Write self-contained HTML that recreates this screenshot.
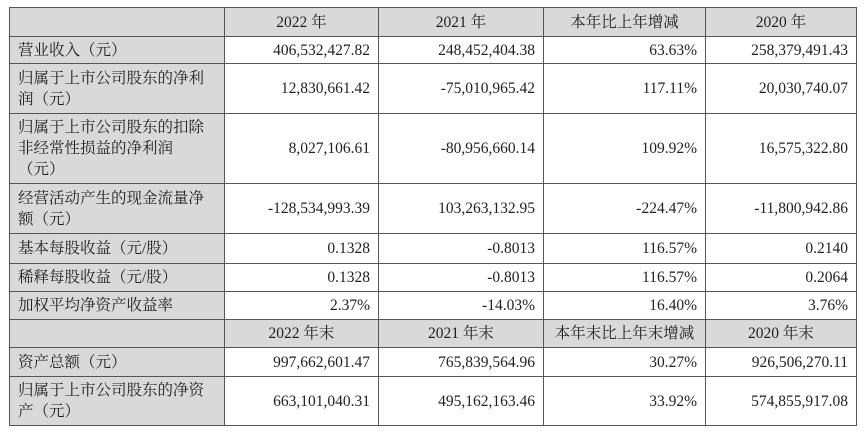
<!DOCTYPE html>
<html><head><meta charset="utf-8"><style>
body{margin:0;background:#fff;width:865px;height:435px;overflow:hidden}
table{position:absolute;left:9px;top:7px;border-collapse:collapse;table-layout:fixed;font-family:"Liberation Serif","Noto Serif CJK SC",serif;font-size:15.5px;color:#222}
td{border:1px solid #555;padding:0 8px;line-height:21px;text-align:right;overflow:hidden;white-space:nowrap}
td:first-child{background:#d9d9d9;text-align:left;padding:0 6px 0 8px}
tr.h td{background:#d9d9d9;text-align:center}
</style></head><body>
<table>
<colgroup><col style="width:215px"><col style="width:154px"><col style="width:165px"><col style="width:162px"><col style="width:151px"></colgroup>
<tr class="h" style="height:29px"><td></td><td>2022 年</td><td>2021 年</td><td>本年比上年增减</td><td>2020 年</td></tr>
<tr style="height:27px"><td>营业收入（元）</td><td>406,532,427.82</td><td>248,452,404.38</td><td>63.63%</td><td>258,379,491.43</td></tr>
<tr style="height:50px"><td>归属于上市公司股东的净利<br>润（元）</td><td>12,830,661.42</td><td>-75,010,965.42</td><td>117.11%</td><td>20,030,740.07</td></tr>
<tr style="height:70px"><td>归属于上市公司股东的扣除<br>非经常性损益的净利润<br>（元）</td><td>8,027,106.61</td><td>-80,956,660.14</td><td>109.92%</td><td>16,575,322.80</td></tr>
<tr style="height:50px"><td>经营活动产生的现金流量净<br>额（元）</td><td>-128,534,993.39</td><td>103,263,132.95</td><td>-224.47%</td><td>-11,800,942.86</td></tr>
<tr style="height:30px"><td>基本每股收益（元/股）</td><td>0.1328</td><td>-0.8013</td><td>116.57%</td><td>0.2140</td></tr>
<tr style="height:28px"><td>稀释每股收益（元/股）</td><td>0.1328</td><td>-0.8013</td><td>116.57%</td><td>0.2064</td></tr>
<tr style="height:28px"><td>加权平均净资产收益率</td><td>2.37%</td><td>-14.03%</td><td>16.40%</td><td>3.76%</td></tr>
<tr class="h" style="height:28px"><td></td><td>2022 年末</td><td>2021 年末</td><td>本年末比上年末增减</td><td>2020 年末</td></tr>
<tr style="height:29px"><td>资产总额（元）</td><td>997,662,601.47</td><td>765,839,564.96</td><td>30.27%</td><td>926,506,270.11</td></tr>
<tr style="height:49px"><td>归属于上市公司股东的净资<br>产（元）</td><td>663,101,040.31</td><td>495,162,163.46</td><td>33.92%</td><td>574,855,917.08</td></tr>
</table>
</body></html>
